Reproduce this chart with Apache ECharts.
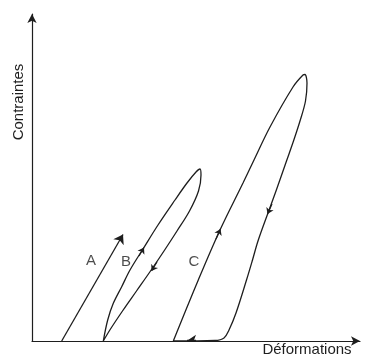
<!DOCTYPE html>
<html>
<head>
<meta charset="utf-8">
<script src="https://cdn.jsdelivr.net/npm/echarts@6/dist/echarts.min.js"></script>
<style>
html,body{margin:0;padding:0;background:#fff;}
#c{width:365px;height:358px;}
</style>
</head>
<body>
<div id="c"></div>
<script>
// Values (strain on x, stress on y, arbitrary units)
var curveA = [[29.7, 0], [91, 106.5]];
var loopB = [[71.3,0],[75.7,21],[81.3,37.7],[89.7,54.3],[98,71],[111,92],[126,116],[143,141],[155,158],[164,169],[168,172],
             [169,166],[166.5,150],[157.5,130],[145,110],[132,90],[118.5,70],[104.5,50],[90.5,30],[78.5,12],[71.3,0]];
var loopC = [[141.3,0],[166.3,61],[188,111],[211,158],[222,181],[238,214],[261,254],[271,266],[273,266.5],
             [275,258],[273.5,240],[268,220],[261.5,200],[254.5,180],[244,150],[236,128],[226,100],[220.5,81],[214.5,61],
             [204,28],[197,11],[192,3],[183,0.5],[141.3,0]];
// direction markers along the loops: [from, to]
var smallArrows = [
  [[107,85],[112,93.5]],     // B loading (up)
  [[125,79],[119.5,70]],     // B unloading (down)
  [[184,102],[188.5,112]],   // C loading (up)
  [[240,137],[235.5,127]]    // C unloading (down)
];
var axisArrow = [[164,0.3],[155,0.3]]; // C unloading back along strain axis
var letterNames = ['A','B','C'];
var letterX = [59, 94, 162];
var letterY = [80, 79, 79];
var xTitle = 'Déformations';
var yTitle = 'Contraintes';

var ink = '#1e1e1e';
var chart = echarts.init(document.getElementById('c'), null, {renderer:'canvas'});
var letters = letterNames.map(function(n,i){ return [letterX[i], letterY[i], n]; });
chart.setOption({
  animation:false,
  grid:{left:32, right:5, top:14, bottom:17},
  xAxis:{type:'value', min:0, max:328, axisLine:{show:true, symbol:['none','arrow'], symbolSize:[7,9], lineStyle:{color:ink, width:1.2}},
         axisTick:{show:false}, axisLabel:{show:false}, splitLine:{show:false}},
  yAxis:{type:'value', min:0, max:327, axisLine:{show:true, symbol:['none','arrow'], symbolSize:[7,9], lineStyle:{color:ink, width:1.2}},
         axisTick:{show:false}, axisLabel:{show:false}, splitLine:{show:false}},
  series:[
    {type:'line', data:loopB, smooth:0.35, symbol:'none', lineStyle:{color:ink, width:1.3}},
    {type:'line', data:loopC, smooth:0.35, symbol:'none', lineStyle:{color:ink, width:1.3}},
    {type:'lines', coordinateSystem:'cartesian2d', symbol:['none','arrow'], symbolSize:9,
     lineStyle:{color:ink, width:1.3, opacity:1}, data:[{coords:curveA}]},
    {type:'lines', coordinateSystem:'cartesian2d', symbol:['none','arrow'], symbolSize:6,
     lineStyle:{color:ink, width:1.2, opacity:1}, data:smallArrows.map(function(s){return {coords:s};})},
    {type:'lines', coordinateSystem:'cartesian2d', symbol:['none','arrow'], symbolSize:9,
     lineStyle:{color:ink, width:1.3, opacity:1}, data:[{coords:axisArrow}]},
    {type:'scatter', data:letters, symbolSize:0, silent:true,
     label:{show:true, position:'inside', formatter:function(p){return p.data[2];}, color:ink,
            fontFamily:'Liberation Sans, Arial, sans-serif', fontSize:15}}
  ],
  graphic:[
    {type:'text', x:19, y:102, rotation:Math.PI/2, style:{text:yTitle, fill:ink, font:'15px "Liberation Sans", Arial, sans-serif', align:'center', verticalAlign:'middle'}},
    {type:'text', x:307, y:350, style:{text:xTitle, fill:ink, font:'15px "Liberation Sans", Arial, sans-serif', align:'center', verticalAlign:'middle'}}
  ]
});
</script>
</body>
</html>
